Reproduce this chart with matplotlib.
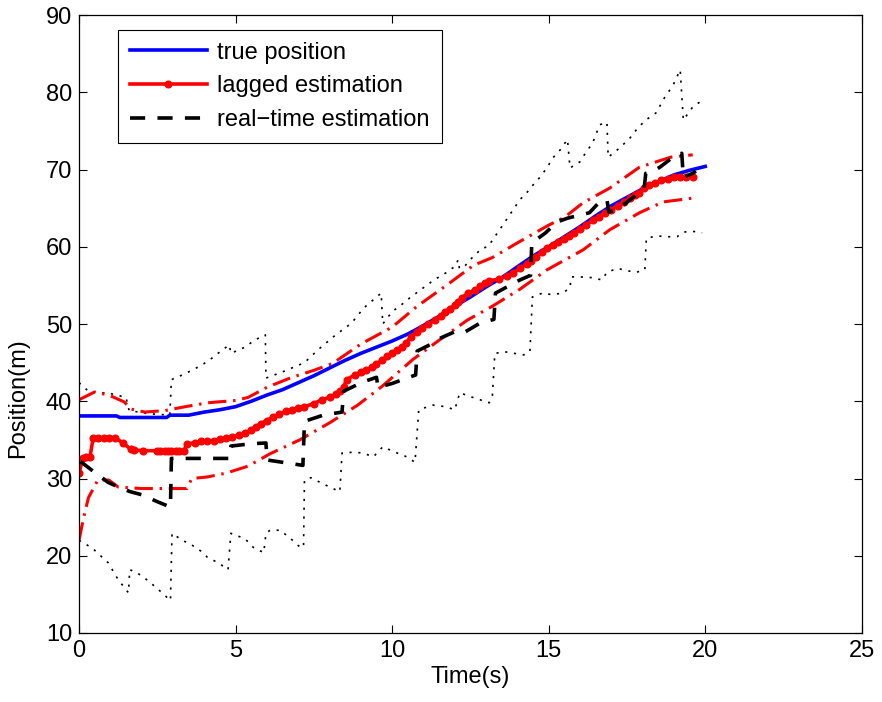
import matplotlib
matplotlib.use('Agg')
import matplotlib.pyplot as plt

plt.rcParams['font.family'] = ['Liberation Sans', 'DejaVu Sans']

# true position
true_t = [0.0, 1.2, 1.3, 2.8, 2.9, 3.5, 4.0, 4.5, 5.0, 5.5, 6.0, 6.5, 7.0, 7.5, 8.0,
          8.5, 9.0, 9.5, 10.0, 10.5, 11.0, 11.5, 12.0, 12.5, 13.0, 13.5, 14.0, 14.5,
          15.0, 15.5, 16.0, 16.5, 17.0, 17.5, 18.0, 18.5, 19.0, 19.5, 20.0]
true_pos = [38.1, 38.1, 37.9, 37.9, 38.2, 38.2, 38.6, 38.9, 39.3, 40.0, 40.8, 41.5, 42.4,
            43.3, 44.3, 45.3, 46.2, 47.0, 47.8, 48.7, 49.8, 51.0, 52.3, 53.5, 54.8, 56.0,
            57.4, 58.8, 60.0, 61.3, 62.6, 64.0, 65.3, 66.4, 67.5, 68.4, 69.3, 69.9, 70.4]

# lagged estimation
lag_t = [0.0, 0.12, 0.22, 0.35, 0.45, 0.6, 0.8, 0.95, 1.15, 1.4, 1.65, 1.75, 2.05, 2.5,
         2.6, 2.75, 2.85, 2.95, 3.1, 3.2, 3.35, 3.45, 3.7, 3.9, 4.1, 4.3, 4.5, 4.7, 4.9,
         5.1, 5.3, 5.5, 5.65, 5.8, 6.0, 6.2, 6.4, 6.6, 6.8, 7.0, 7.2, 7.5, 7.75, 8.0, 8.2,
         8.35, 8.45, 8.55, 8.8, 9.0, 9.15, 9.35, 9.5, 9.67, 9.85, 10.0, 10.15, 10.3, 10.45,
         10.6, 10.8, 10.95, 11.15, 11.37, 11.55, 11.7, 11.85, 12.0, 12.1, 12.23, 12.42,
         12.64, 12.8, 12.96, 13.1, 13.4, 13.66, 13.85, 14.08, 14.3, 14.45, 14.6, 14.8,
         14.95, 15.13, 15.3, 15.5, 15.65, 15.8, 16.0, 16.2, 16.4, 16.6, 16.8, 17.0, 17.2,
         17.4, 17.6, 17.75, 17.9, 18.05, 18.2, 18.4, 18.6, 18.8, 19.0, 19.2, 19.4, 19.6]
lag_pos = [30.7, 32.6, 32.8, 32.8, 35.2, 35.3, 35.3, 35.3, 35.3, 34.6, 33.8, 33.7, 33.6,
           33.6, 33.6, 33.6, 33.6, 33.6, 33.6, 33.6, 33.6, 34.5, 34.6, 34.8, 34.9, 34.9,
           35.1, 35.2, 35.4, 35.6, 35.9, 36.3, 36.7, 37.1, 37.5, 38.0, 38.3, 38.7, 38.9,
           39.1, 39.3, 39.7, 40.2, 40.5, 40.9, 41.3, 41.9, 42.8, 43.4, 43.8, 44.0, 44.4,
           44.8, 45.3, 45.8, 46.2, 46.6, 47.0, 47.6, 48.3, 49.0, 49.5, 50.0, 50.5, 51.1,
           51.6, 52.0, 52.5, 52.9, 53.4, 54.0, 54.4, 54.9, 55.3, 55.6, 55.8, 56.2, 56.6,
           57.2, 57.8, 58.2, 58.7, 59.3, 59.8, 60.2, 60.6, 61.0, 61.4, 61.8, 62.3, 62.8,
           63.4, 63.9, 64.4, 64.8, 65.3, 65.8, 66.3, 66.7, 67.0, 67.6, 68.0, 68.3, 68.6,
           68.8, 69.0, 69.0, 69.0, 69.0]

# lagged estimation bounds (dash-dot)
lag_up_t = [0.0, 0.5, 0.95, 1.45, 1.65, 2.1, 2.75, 3.4, 4.1, 5.0, 5.4, 6.0, 6.8, 7.5, 8.1,
            9.0, 10.0, 10.8, 11.8, 12.6, 13.2, 14.0, 15.0, 15.5, 16.1, 16.95, 17.9, 18.9,
            19.6]
lag_up = [40.2, 41.2, 40.8, 39.9, 39.0, 38.6, 38.8, 39.3, 39.8, 40.1, 40.5, 41.8, 43.1,
          44.0, 44.9, 47.4, 49.6, 52.3, 55.2, 57.6, 58.6, 60.5, 62.8, 63.8, 65.7, 67.6,
          70.3, 71.6, 71.9]
lag_lo_t = [0.0, 0.15, 0.3, 0.6, 0.95, 1.25, 2.0, 2.5, 3.15, 3.45, 3.6, 4.1, 4.7, 5.4, 6.1,
            7.05, 8.0, 8.9, 9.7, 10.66, 11.5, 12.4, 13.2, 14.08, 14.94, 16.1, 16.95, 17.9,
            18.65, 19.6]
lag_lo = [22.0, 25.0, 27.5, 29.8, 29.8, 28.9, 28.7, 28.7, 28.7, 28.7, 30.0, 30.2, 30.7,
          31.6, 33.2, 35.0, 37.2, 39.5, 42.0, 45.4, 47.9, 50.5, 52.3, 54.5, 57.0, 59.6,
          62.2, 64.4, 65.8, 66.3]

# real-time estimation
rt_t = [0.05, 0.4, 0.93, 1.25, 1.63, 2.0, 2.5, 2.92, 2.95, 3.5, 4.8, 4.85, 5.5, 5.97, 6.0,
        6.5, 7.15, 7.2, 7.8, 8.4, 8.45, 9.07, 9.5, 9.55, 10.0, 10.47, 10.75, 10.8, 11.2,
        11.5, 12.0, 12.3, 12.8, 13.25, 13.3, 13.76, 14.08, 14.42, 14.46, 14.9, 15.26, 15.6,
        15.8, 16.3, 16.6, 16.86, 16.92, 17.2, 17.6, 17.9, 18.05, 18.1, 18.3, 18.55, 18.97,
        19.25, 19.3, 19.6, 19.7]
rt_pos = [32.2, 31.1, 29.5, 28.9, 28.3, 27.9, 27.0, 26.3, 32.6, 32.6, 32.6, 34.2, 34.5,
          34.6, 32.4, 32.1, 31.7, 37.4, 38.2, 38.6, 41.3, 42.5, 43.1, 41.8, 42.3, 43.0,
          43.4, 46.5, 47.3, 48.1, 49.0, 48.9, 50.1, 50.6, 54.0, 55.0, 55.7, 56.3, 60.5,
          61.8, 63.2, 63.7, 63.9, 64.4, 65.7, 66.1, 64.5, 64.8, 66.1, 67.0, 67.6, 69.5,
          69.7, 70.3, 71.6, 72.1, 69.0, 69.5, 69.8]

# real-time estimation bounds (dotted)
rt_up_t = [0.0, 0.3, 1.0, 1.5, 1.6, 2.2, 2.9, 2.95, 3.3, 3.6, 3.93, 4.25, 4.5, 4.8, 4.85,
           5.3, 5.6, 5.95, 5.97, 6.5, 7.2, 7.7, 8.2, 8.7, 9.1, 9.65, 9.7, 10.0, 10.3, 10.57,
           10.8, 11.2, 11.46, 11.75, 12.05, 12.1, 12.15, 12.3, 12.58, 12.87, 13.06, 13.5,
           14.08, 14.3, 14.5, 14.72, 14.94, 15.13, 15.36, 15.6, 15.68, 16.0, 16.2, 16.4,
           16.63, 16.86, 16.9, 17.27, 17.6, 17.85, 18.1, 18.45, 18.65, 18.97, 19.2, 19.3,
           19.6, 19.92]
rt_up = [42.4, 41.3, 41.0, 40.5, 38.8, 38.4, 38.2, 42.8, 43.4, 44.0, 44.7, 45.6, 46.4, 47.3,
         46.2, 47.0, 47.9, 48.6, 43.0, 43.8, 45.0, 46.9, 48.6, 50.1, 52.1, 54.0, 50.0, 51.6,
         52.5, 53.4, 54.1, 55.3, 56.0, 56.7, 57.6, 58.3, 57.2, 57.4, 58.7, 59.8, 60.0, 62.6,
         66.1, 67.0, 68.0, 69.0, 70.2, 71.5, 72.5, 73.9, 70.2, 71.0, 72.3, 73.4, 75.8, 76.1,
         71.6, 72.8, 74.1, 75.4, 76.4, 77.4, 79.0, 80.9, 82.9, 76.4, 78.1, 79.0]
rt_lo_t = [0.0, 0.42, 0.93, 1.25, 1.58, 1.62, 1.85, 2.1, 2.43, 2.65, 2.92, 2.97, 3.3, 3.6,
           3.93, 4.1, 4.44, 4.76, 4.85, 5.3, 5.56, 5.9, 5.97, 6.1, 6.42, 6.74, 7.06, 7.17,
           7.2, 7.4, 7.7, 8.0, 8.33, 8.4, 8.75, 9.07, 9.4, 9.7, 10.1, 10.47, 10.73, 10.85,
           11.3, 11.7, 12.0, 12.16, 12.5, 12.8, 13.1, 13.2, 13.28, 13.6, 13.9, 14.2, 14.4,
           14.48, 14.8, 15.1, 15.45, 15.68, 15.72, 16.0, 16.4, 16.7, 16.86, 17.2, 17.5, 17.8,
           18.07, 18.12, 18.45, 18.8, 19.1, 19.3, 19.6, 19.9]
rt_lo = [22.0, 21.0, 19.1, 16.9, 15.2, 18.2, 17.8, 17.1, 16.0, 15.2, 14.2, 22.9, 22.0, 21.4,
         20.5, 19.8, 19.1, 18.2, 22.9, 22.2, 21.1, 20.4, 22.9, 23.3, 23.3, 22.3, 21.1, 21.1,
         29.8, 30.1, 29.5, 28.9, 28.3, 33.3, 33.4, 33.3, 32.8, 34.1, 33.4, 32.8, 32.1, 38.9,
         39.5, 39.3, 38.9, 41.1, 40.6, 40.2, 39.8, 40.6, 46.2, 46.4, 46.2, 46.0, 46.4, 53.5,
         54.0, 53.8, 54.0, 54.7, 56.1, 56.1, 56.0, 55.7, 56.7, 57.2, 56.9, 56.7, 57.0, 61.1,
         61.4, 61.3, 61.3, 61.9, 62.0, 61.8]

fig = plt.figure(figsize=(8.82, 7.02), dpi=100)
ax = fig.add_axes([0.0896, 0.0983, 0.8875, 0.8803])

# dotted bounds of the real-time estimation
ax.plot(rt_up_t, rt_up, color='black', lw=1.2, linestyle=(0, (1.3, 4.0)))
ax.plot(rt_lo_t, rt_lo, color='black', lw=1.2, linestyle=(0, (1.3, 4.0)))
# dash-dot bounds of the lagged estimation
ax.plot(lag_up_t, lag_up, color='red', lw=2.2, linestyle=(0, (6.0, 2.2, 0.8, 2.2)))
ax.plot(lag_lo_t, lag_lo, color='red', lw=2.2, linestyle=(0, (6.0, 2.2, 0.8, 2.2)))

l1, = ax.plot(true_t, true_pos, color='blue', lw=2.6, label='true position')
l2, = ax.plot(lag_t, lag_pos, color='red', lw=2.6, marker='o', markersize=4.8,
              label='lagged estimation')
l3, = ax.plot(rt_t, rt_pos, color='black', lw=2.6, linestyle=(0, (4.2, 3.4)),
              label='real\u2212time estimation')

ax.set_xlim(0, 25)
ax.set_ylim(10, 90)
ax.set_xticks([0, 5, 10, 15, 20, 25])
ax.set_yticks([10, 20, 30, 40, 50, 60, 70, 80, 90])
ax.tick_params(direction='in', length=6, width=0.8, top=True, right=True,
               labelsize=17, pad=5)
for s in ax.spines.values():
    s.set_linewidth(0.9)

ax.set_xlabel('Time(s)', fontsize=17, labelpad=3)
ax.set_ylabel('Position(m)', fontsize=17)
ax.yaxis.set_label_coords(-0.064, 0.38)

leg = ax.legend(handles=[l1, l2, l3], loc='upper left', bbox_to_anchor=(0.05, 0.976),
                borderaxespad=0, fontsize=17, handlelength=3.25, handletextpad=0.45,
                labelspacing=0.5, borderpad=0.5, fancybox=False, framealpha=1,
                numpoints=1)
leg.get_frame().set_edgecolor('black')
leg.get_frame().set_linewidth(0.8)

fig.savefig('out.png', dpi=100)
